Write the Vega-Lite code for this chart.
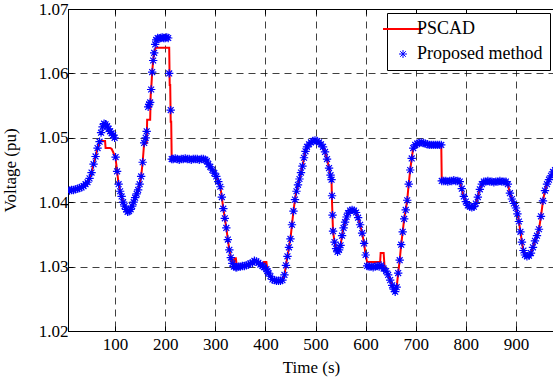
{
  "$schema": "https://vega.github.io/schema/vega-lite/v6.json",
  "width": 486,
  "height": 322,
  "autosize": {"type": "none"},
  "padding": {"left": 68, "top": 9, "right": 0, "bottom": 50},
  "background": "white",
  "config": {
    "font": "Liberation Serif",
    "view": {"stroke": "black", "strokeWidth": 1},
    "axis": {
      "labelFont": "Liberation Serif", "titleFont": "Liberation Serif",
      "labelFontSize": 17, "titleFontSize": 17, "titleFontWeight": "normal",
      "labelColor": "black", "titleColor": "black",
      "domainColor": "black", "domainWidth": 1,
      "tickColor": "black", "tickWidth": 1,
      "gridColor": "black", "gridDash": [7, 5], "gridOpacity": 0.75, "gridWidth": 1
    },
    "legend": {
      "strokeColor": "black", "fillColor": "white", "strokeWidth": 1, "padding": 7,
      "labelFont": "Liberation Serif", "labelFontSize": 18, "labelColor": "black",
      "rowPadding": 7, "labelOffset": 5, "symbolSize": 3200
    }
  },
  "data": {"values": [
    {"t": 5, "pscad": 1.0419, "proposed": 1.0419},
    {"t": 9, "pscad": 1.0418, "proposed": 1.0418},
    {"t": 13, "pscad": 1.0419, "proposed": 1.0419},
    {"t": 17, "pscad": 1.0419, "proposed": 1.0419},
    {"t": 21, "pscad": 1.0420, "proposed": 1.0420},
    {"t": 25, "pscad": 1.0421, "proposed": 1.0421},
    {"t": 29, "pscad": 1.0422, "proposed": 1.0422},
    {"t": 33, "pscad": 1.0423, "proposed": 1.0423},
    {"t": 37, "pscad": 1.0425, "proposed": 1.0425},
    {"t": 41, "pscad": 1.0428, "proposed": 1.0428},
    {"t": 45, "pscad": 1.0431, "proposed": 1.0431},
    {"t": 49, "pscad": 1.0437, "proposed": 1.0437},
    {"t": 53, "pscad": 1.0446, "proposed": 1.0446},
    {"t": 57, "pscad": 1.0459, "proposed": 1.0459},
    {"t": 61, "pscad": 1.0471, "proposed": 1.0471},
    {"t": 65, "pscad": 1.0484, "proposed": 1.0484},
    {"t": 69, "pscad": 1.0493, "proposed": 1.0494},
    {"t": 72, "pscad": 1.0495, "proposed": 1.0508},
    {"t": 75, "pscad": 1.0495, "proposed": 1.0517},
    {"t": 78, "pscad": 1.0495, "proposed": 1.0522},
    {"t": 80, "pscad": 1.0495, "proposed": null},
    {"t": 81, "pscad": 1.0484, "proposed": 1.0521},
    {"t": 84, "pscad": 1.0484, "proposed": 1.0518},
    {"t": 87, "pscad": 1.0484, "proposed": 1.0514},
    {"t": 90, "pscad": 1.0484, "proposed": 1.0510},
    {"t": 93, "pscad": 1.0483, "proposed": 1.0507},
    {"t": 96, "pscad": 1.0478, "proposed": 1.0504},
    {"t": 99, "pscad": 1.0472, "proposed": 1.0500},
    {"t": 101, "pscad": 1.0468, "proposed": 1.0470},
    {"t": 104, "pscad": 1.0448, "proposed": 1.0448},
    {"t": 107, "pscad": 1.0428, "proposed": 1.0428},
    {"t": 110, "pscad": 1.0417, "proposed": 1.0417},
    {"t": 113, "pscad": 1.0409, "proposed": 1.0409},
    {"t": 116, "pscad": 1.0400, "proposed": 1.0400},
    {"t": 119, "pscad": 1.0394, "proposed": 1.0394},
    {"t": 122, "pscad": 1.0389, "proposed": 1.0389},
    {"t": 125, "pscad": 1.0385, "proposed": 1.0385},
    {"t": 128, "pscad": 1.0386, "proposed": 1.0386},
    {"t": 131, "pscad": 1.0389, "proposed": 1.0389},
    {"t": 134, "pscad": 1.0394, "proposed": 1.0394},
    {"t": 137, "pscad": 1.0400, "proposed": 1.0400},
    {"t": 140, "pscad": 1.0407, "proposed": 1.0407},
    {"t": 143, "pscad": 1.0413, "proposed": 1.0413},
    {"t": 146, "pscad": 1.0419, "proposed": 1.0419},
    {"t": 149, "pscad": 1.0428, "proposed": 1.0428},
    {"t": 152, "pscad": 1.0440, "proposed": 1.0440},
    {"t": 155, "pscad": 1.0462, "proposed": 1.0462},
    {"t": 158, "pscad": 1.0492, "proposed": 1.0492},
    {"t": 161, "pscad": 1.0492, "proposed": 1.0500},
    {"t": 163, "pscad": 1.0492, "proposed": 1.0510},
    {"t": 164, "pscad": 1.0528, "proposed": null},
    {"t": 166, "pscad": 1.0528, "proposed": 1.0548},
    {"t": 168, "pscad": 1.0528, "proposed": 1.0552},
    {"t": 170, "pscad": 1.0528, "proposed": 1.0555},
    {"t": 171, "pscad": 1.0565, "proposed": null},
    {"t": 172, "pscad": 1.0575, "proposed": 1.0575},
    {"t": 174, "pscad": 1.0602, "proposed": 1.0602},
    {"t": 176, "pscad": 1.0620, "proposed": 1.0620},
    {"t": 178, "pscad": 1.0632, "proposed": 1.0632},
    {"t": 180, "pscad": 1.0638, "proposed": 1.0645},
    {"t": 182, "pscad": 1.0640, "proposed": 1.0652},
    {"t": 185, "pscad": 1.0640, "proposed": 1.0655},
    {"t": 188, "pscad": 1.0640, "proposed": 1.0654},
    {"t": 191, "pscad": 1.0640, "proposed": 1.0655},
    {"t": 194, "pscad": 1.0640, "proposed": 1.0656},
    {"t": 197, "pscad": 1.0640, "proposed": 1.0655},
    {"t": 200, "pscad": 1.0640, "proposed": 1.0655},
    {"t": 203, "pscad": 1.0640, "proposed": 1.0656},
    {"t": 206, "pscad": 1.0640, "proposed": 1.0655},
    {"t": 208, "pscad": 1.0640, "proposed": 1.0600},
    {"t": 209, "pscad": 1.0582, "proposed": null},
    {"t": 210, "pscad": 1.0582, "proposed": null},
    {"t": 211, "pscad": 1.0525, "proposed": 1.0543},
    {"t": 212, "pscad": 1.0525, "proposed": null},
    {"t": 213, "pscad": 1.0466, "proposed": 1.0467},
    {"t": 216, "pscad": 1.0466, "proposed": 1.0467},
    {"t": 220, "pscad": 1.0466, "proposed": 1.0468},
    {"t": 224, "pscad": 1.0466, "proposed": 1.0467},
    {"t": 228, "pscad": 1.0466, "proposed": 1.0466},
    {"t": 232, "pscad": 1.0466, "proposed": 1.0467},
    {"t": 236, "pscad": 1.0466, "proposed": 1.0467},
    {"t": 240, "pscad": 1.0466, "proposed": 1.0468},
    {"t": 244, "pscad": 1.0466, "proposed": 1.0467},
    {"t": 248, "pscad": 1.0466, "proposed": 1.0467},
    {"t": 252, "pscad": 1.0466, "proposed": 1.0466},
    {"t": 256, "pscad": 1.0466, "proposed": 1.0467},
    {"t": 260, "pscad": 1.0466, "proposed": 1.0467},
    {"t": 264, "pscad": 1.0466, "proposed": 1.0467},
    {"t": 268, "pscad": 1.0466, "proposed": 1.0466},
    {"t": 272, "pscad": 1.0466, "proposed": 1.0467},
    {"t": 276, "pscad": 1.0466, "proposed": 1.0467},
    {"t": 280, "pscad": 1.0466, "proposed": 1.0466},
    {"t": 283, "pscad": 1.0464, "proposed": 1.0464},
    {"t": 286, "pscad": 1.0459, "proposed": 1.0459},
    {"t": 290, "pscad": 1.0455, "proposed": 1.0455},
    {"t": 294, "pscad": 1.0450, "proposed": 1.0450},
    {"t": 298, "pscad": 1.0445, "proposed": 1.0445},
    {"t": 302, "pscad": 1.0440, "proposed": 1.0440},
    {"t": 306, "pscad": 1.0432, "proposed": 1.0432},
    {"t": 310, "pscad": 1.0424, "proposed": 1.0424},
    {"t": 313, "pscad": 1.0408, "proposed": 1.0408},
    {"t": 316, "pscad": 1.0390, "proposed": 1.0390},
    {"t": 319, "pscad": 1.0375, "proposed": 1.0375},
    {"t": 322, "pscad": 1.0360, "proposed": 1.0360},
    {"t": 325, "pscad": 1.0342, "proposed": 1.0342},
    {"t": 328, "pscad": 1.0326, "proposed": 1.0326},
    {"t": 331, "pscad": 1.0314, "proposed": 1.0314},
    {"t": 334, "pscad": 1.0305, "proposed": 1.0305},
    {"t": 337, "pscad": 1.0300, "proposed": 1.0300},
    {"t": 338, "pscad": 1.0313, "proposed": null},
    {"t": 341, "pscad": 1.0313, "proposed": 1.0299},
    {"t": 343, "pscad": 1.0300, "proposed": 1.0299},
    {"t": 346, "pscad": 1.0300, "proposed": 1.0300},
    {"t": 350, "pscad": 1.0300, "proposed": 1.0300},
    {"t": 354, "pscad": 1.0301, "proposed": 1.0301},
    {"t": 358, "pscad": 1.0301, "proposed": 1.0301},
    {"t": 362, "pscad": 1.0302, "proposed": 1.0302},
    {"t": 366, "pscad": 1.0303, "proposed": 1.0303},
    {"t": 370, "pscad": 1.0305, "proposed": 1.0305},
    {"t": 374, "pscad": 1.0306, "proposed": 1.0306},
    {"t": 378, "pscad": 1.0309, "proposed": 1.0309},
    {"t": 382, "pscad": 1.0308, "proposed": 1.0308},
    {"t": 386, "pscad": 1.0306, "proposed": 1.0306},
    {"t": 390, "pscad": 1.0303, "proposed": 1.0303},
    {"t": 394, "pscad": 1.0301, "proposed": 1.0301},
    {"t": 397, "pscad": 1.0307, "proposed": 1.0299},
    {"t": 402, "pscad": 1.0307, "proposed": 1.0296},
    {"t": 404, "pscad": 1.0294, "proposed": 1.0293},
    {"t": 406, "pscad": 1.0290, "proposed": 1.0290},
    {"t": 410, "pscad": 1.0285, "proposed": 1.0285},
    {"t": 414, "pscad": 1.0280, "proposed": 1.0280},
    {"t": 418, "pscad": 1.0279, "proposed": 1.0279},
    {"t": 422, "pscad": 1.0278, "proposed": 1.0278},
    {"t": 426, "pscad": 1.0278, "proposed": 1.0278},
    {"t": 430, "pscad": 1.0278, "proposed": 1.0278},
    {"t": 434, "pscad": 1.0279, "proposed": 1.0279},
    {"t": 438, "pscad": 1.0287, "proposed": 1.0287},
    {"t": 441, "pscad": 1.0302, "proposed": 1.0302},
    {"t": 444, "pscad": 1.0316, "proposed": 1.0316},
    {"t": 447, "pscad": 1.0330, "proposed": 1.0330},
    {"t": 450, "pscad": 1.0343, "proposed": 1.0343},
    {"t": 453, "pscad": 1.0365, "proposed": 1.0365},
    {"t": 456, "pscad": 1.0386, "proposed": 1.0386},
    {"t": 459, "pscad": 1.0404, "proposed": 1.0404},
    {"t": 462, "pscad": 1.0417, "proposed": 1.0417},
    {"t": 465, "pscad": 1.0427, "proposed": 1.0427},
    {"t": 468, "pscad": 1.0436, "proposed": 1.0436},
    {"t": 471, "pscad": 1.0446, "proposed": 1.0446},
    {"t": 474, "pscad": 1.0456, "proposed": 1.0456},
    {"t": 477, "pscad": 1.0469, "proposed": 1.0469},
    {"t": 480, "pscad": 1.0479, "proposed": 1.0479},
    {"t": 483, "pscad": 1.0486, "proposed": 1.0486},
    {"t": 487, "pscad": 1.0490, "proposed": 1.0490},
    {"t": 491, "pscad": 1.0493, "proposed": 1.0493},
    {"t": 495, "pscad": 1.0495, "proposed": 1.0495},
    {"t": 499, "pscad": 1.0496, "proposed": 1.0496},
    {"t": 503, "pscad": 1.0495, "proposed": 1.0495},
    {"t": 507, "pscad": 1.0493, "proposed": 1.0493},
    {"t": 511, "pscad": 1.0490, "proposed": 1.0490},
    {"t": 515, "pscad": 1.0486, "proposed": 1.0486},
    {"t": 519, "pscad": 1.0478, "proposed": 1.0478},
    {"t": 523, "pscad": 1.0467, "proposed": 1.0467},
    {"t": 527, "pscad": 1.0453, "proposed": 1.0453},
    {"t": 530, "pscad": 1.0442, "proposed": 1.0442},
    {"t": 532, "pscad": 1.0432, "proposed": 1.0435},
    {"t": 533, "pscad": 1.0400, "proposed": 1.0410},
    {"t": 534, "pscad": 1.0375, "proposed": 1.0380},
    {"t": 535, "pscad": 1.0355, "proposed": 1.0355},
    {"t": 538, "pscad": 1.0338, "proposed": 1.0338},
    {"t": 541, "pscad": 1.0328, "proposed": 1.0328},
    {"t": 544, "pscad": 1.0323, "proposed": 1.0323},
    {"t": 547, "pscad": 1.0326, "proposed": 1.0326},
    {"t": 550, "pscad": 1.0333, "proposed": 1.0333},
    {"t": 553, "pscad": 1.0348, "proposed": 1.0348},
    {"t": 556, "pscad": 1.0360, "proposed": 1.0360},
    {"t": 559, "pscad": 1.0369, "proposed": 1.0369},
    {"t": 562, "pscad": 1.0377, "proposed": 1.0377},
    {"t": 565, "pscad": 1.0383, "proposed": 1.0383},
    {"t": 569, "pscad": 1.0387, "proposed": 1.0387},
    {"t": 573, "pscad": 1.0388, "proposed": 1.0388},
    {"t": 577, "pscad": 1.0387, "proposed": 1.0387},
    {"t": 581, "pscad": 1.0384, "proposed": 1.0384},
    {"t": 585, "pscad": 1.0376, "proposed": 1.0376},
    {"t": 589, "pscad": 1.0365, "proposed": 1.0365},
    {"t": 593, "pscad": 1.0352, "proposed": 1.0352},
    {"t": 597, "pscad": 1.0336, "proposed": 1.0336},
    {"t": 600, "pscad": 1.0318, "proposed": 1.0318},
    {"t": 603, "pscad": 1.0307, "proposed": 1.0301},
    {"t": 607, "pscad": 1.0307, "proposed": 1.0300},
    {"t": 611, "pscad": 1.0307, "proposed": 1.0300},
    {"t": 615, "pscad": 1.0307, "proposed": 1.0299},
    {"t": 619, "pscad": 1.0307, "proposed": 1.0300},
    {"t": 623, "pscad": 1.0307, "proposed": 1.0301},
    {"t": 627, "pscad": 1.0307, "proposed": 1.0300},
    {"t": 629, "pscad": 1.0307, "proposed": null},
    {"t": 630, "pscad": 1.0321, "proposed": null},
    {"t": 631, "pscad": 1.0321, "proposed": 1.0302},
    {"t": 636, "pscad": 1.0321, "proposed": 1.0297},
    {"t": 638, "pscad": 1.0297, "proposed": null},
    {"t": 641, "pscad": 1.0293, "proposed": 1.0293},
    {"t": 645, "pscad": 1.0287, "proposed": 1.0287},
    {"t": 649, "pscad": 1.0279, "proposed": 1.0279},
    {"t": 653, "pscad": 1.0271, "proposed": 1.0271},
    {"t": 656, "pscad": 1.0265, "proposed": 1.0265},
    {"t": 659, "pscad": 1.0261, "proposed": 1.0261},
    {"t": 662, "pscad": 1.0268, "proposed": 1.0268},
    {"t": 665, "pscad": 1.0290, "proposed": 1.0290},
    {"t": 668, "pscad": 1.0310, "proposed": 1.0310},
    {"t": 671, "pscad": 1.0334, "proposed": 1.0334},
    {"t": 674, "pscad": 1.0354, "proposed": 1.0354},
    {"t": 677, "pscad": 1.0374, "proposed": 1.0374},
    {"t": 680, "pscad": 1.0388, "proposed": 1.0388},
    {"t": 683, "pscad": 1.0403, "proposed": 1.0403},
    {"t": 686, "pscad": 1.0428, "proposed": 1.0428},
    {"t": 689, "pscad": 1.0450, "proposed": 1.0450},
    {"t": 692, "pscad": 1.0468, "proposed": 1.0468},
    {"t": 695, "pscad": 1.0484, "proposed": 1.0484},
    {"t": 699, "pscad": 1.0489, "proposed": 1.0489},
    {"t": 703, "pscad": 1.0491, "proposed": 1.0491},
    {"t": 707, "pscad": 1.0492, "proposed": 1.0492},
    {"t": 711, "pscad": 1.0493, "proposed": 1.0493},
    {"t": 715, "pscad": 1.0492, "proposed": 1.0492},
    {"t": 719, "pscad": 1.0491, "proposed": 1.0491},
    {"t": 723, "pscad": 1.0490, "proposed": 1.0490},
    {"t": 727, "pscad": 1.0489, "proposed": 1.0489},
    {"t": 731, "pscad": 1.0489, "proposed": 1.0489},
    {"t": 735, "pscad": 1.0489, "proposed": 1.0489},
    {"t": 739, "pscad": 1.0489, "proposed": 1.0489},
    {"t": 743, "pscad": 1.0489, "proposed": 1.0489},
    {"t": 747, "pscad": 1.0489, "proposed": 1.0489},
    {"t": 751, "pscad": 1.0489, "proposed": 1.0489},
    {"t": 752, "pscad": 1.0433, "proposed": 1.0433},
    {"t": 756, "pscad": 1.0433, "proposed": 1.0433},
    {"t": 760, "pscad": 1.0433, "proposed": 1.0433},
    {"t": 764, "pscad": 1.0433, "proposed": 1.0432},
    {"t": 768, "pscad": 1.0433, "proposed": 1.0433},
    {"t": 772, "pscad": 1.0433, "proposed": 1.0433},
    {"t": 776, "pscad": 1.0433, "proposed": 1.0434},
    {"t": 780, "pscad": 1.0433, "proposed": 1.0433},
    {"t": 784, "pscad": 1.0433, "proposed": 1.0433},
    {"t": 788, "pscad": 1.0432, "proposed": 1.0432},
    {"t": 792, "pscad": 1.0421, "proposed": 1.0421},
    {"t": 796, "pscad": 1.0409, "proposed": 1.0409},
    {"t": 800, "pscad": 1.0401, "proposed": 1.0401},
    {"t": 804, "pscad": 1.0395, "proposed": 1.0395},
    {"t": 808, "pscad": 1.0393, "proposed": 1.0393},
    {"t": 812, "pscad": 1.0392, "proposed": 1.0392},
    {"t": 816, "pscad": 1.0393, "proposed": 1.0393},
    {"t": 820, "pscad": 1.0398, "proposed": 1.0398},
    {"t": 824, "pscad": 1.0408, "proposed": 1.0408},
    {"t": 828, "pscad": 1.0420, "proposed": 1.0420},
    {"t": 832, "pscad": 1.0428, "proposed": 1.0428},
    {"t": 836, "pscad": 1.0432, "proposed": 1.0432},
    {"t": 840, "pscad": 1.0432, "proposed": 1.0432},
    {"t": 844, "pscad": 1.0432, "proposed": 1.0433},
    {"t": 848, "pscad": 1.0432, "proposed": 1.0432},
    {"t": 852, "pscad": 1.0432, "proposed": 1.0432},
    {"t": 856, "pscad": 1.0432, "proposed": 1.0431},
    {"t": 860, "pscad": 1.0432, "proposed": 1.0432},
    {"t": 864, "pscad": 1.0432, "proposed": 1.0432},
    {"t": 868, "pscad": 1.0432, "proposed": 1.0433},
    {"t": 872, "pscad": 1.0432, "proposed": 1.0432},
    {"t": 876, "pscad": 1.0432, "proposed": 1.0432},
    {"t": 880, "pscad": 1.0432, "proposed": 1.0432},
    {"t": 884, "pscad": 1.0428, "proposed": 1.0428},
    {"t": 888, "pscad": 1.0414, "proposed": 1.0414},
    {"t": 892, "pscad": 1.0405, "proposed": 1.0405},
    {"t": 896, "pscad": 1.0398, "proposed": 1.0398},
    {"t": 900, "pscad": 1.0391, "proposed": 1.0391},
    {"t": 903, "pscad": 1.0382, "proposed": 1.0382},
    {"t": 906, "pscad": 1.0370, "proposed": 1.0370},
    {"t": 909, "pscad": 1.0354, "proposed": 1.0354},
    {"t": 912, "pscad": 1.0338, "proposed": 1.0338},
    {"t": 915, "pscad": 1.0325, "proposed": 1.0325},
    {"t": 918, "pscad": 1.0318, "proposed": 1.0318},
    {"t": 922, "pscad": 1.0316, "proposed": 1.0316},
    {"t": 926, "pscad": 1.0317, "proposed": 1.0317},
    {"t": 930, "pscad": 1.0321, "proposed": 1.0321},
    {"t": 934, "pscad": 1.0330, "proposed": 1.0330},
    {"t": 938, "pscad": 1.0340, "proposed": 1.0340},
    {"t": 942, "pscad": 1.0348, "proposed": 1.0348},
    {"t": 946, "pscad": 1.0358, "proposed": 1.0358},
    {"t": 950, "pscad": 1.0378, "proposed": 1.0378},
    {"t": 954, "pscad": 1.0402, "proposed": 1.0402},
    {"t": 958, "pscad": 1.0418, "proposed": 1.0418},
    {"t": 962, "pscad": 1.0428, "proposed": 1.0428},
    {"t": 966, "pscad": 1.0435, "proposed": 1.0435},
    {"t": 970, "pscad": 1.0441, "proposed": 1.0441},
    {"t": 974, "pscad": 1.0447, "proposed": 1.0447},
    {"t": 978, "pscad": 1.0450, "proposed": 1.0450}
  ]},
  "layer": [
    {
      "mark": {"type": "line", "color": "#ff0000", "strokeWidth": 2, "clip": true},
      "encoding": {
        "x": {"field": "t", "type": "quantitative",
          "scale": {"domain": [6, 976], "nice": false, "zero": false},
          "axis": {"values": [100, 200, 300, 400, 500, 600, 700, 800, 900], "title": "Time (s)", "grid": true, "tickSize": -5, "labelPadding": 10, "titlePadding": 7}},
        "y": {"field": "pscad", "type": "quantitative",
          "scale": {"domain": [1.02, 1.07], "nice": false, "zero": false},
          "axis": {"values": [1.02, 1.03, 1.04, 1.05, 1.06, 1.07], "format": ".2f", "title": "Voltage (pu)", "grid": true, "tickSize": -5, "labelPadding": 5, "titlePadding": 19}},
        "color": {"datum": "PSCAD", "type": "nominal",
          "scale": {"domain": ["PSCAD", "Proposed method"], "range": ["#ff0000", "#0000ff"]},
          "legend": {
            "orient": "top-right", "offset": 4, "title": null,
            "encode": {
              "symbols": {"update": {
                "shape": {"signal": "datum.value === 'PSCAD' ? 'M-1,0L1,0' : 'M-1,0L1,0M0,-1L0,1M-0.7,-0.7L0.7,0.7M-0.7,0.7L0.7,-0.7'"},
                "size": {"signal": "datum.value === 'PSCAD' ? 1600 : 64"},
                "strokeWidth": {"signal": "datum.value === 'PSCAD' ? 2 : 1"},
                "stroke": {"signal": "datum.value === 'PSCAD' ? '#ff0000' : '#0000ff'"},
                "fill": {"value": "transparent"},
                "opacity": {"value": 1}
              }}
            }
          }}
      }
    },
    {
      "mark": {"type": "point", "shape": "M-1,0L1,0M0,-1L0,1M-0.7,-0.7L0.7,0.7M-0.7,0.7L0.7,-0.7", "filled": false, "size": 70, "strokeWidth": 1.2, "opacity": 1, "clip": true},
      "encoding": {
        "x": {"field": "t", "type": "quantitative",
          "scale": {"domain": [6, 976], "nice": false, "zero": false},
          "axis": {"orient": "top", "values": [100, 200, 300, 400, 500, 600, 700, 800, 900], "labels": false, "domain": false, "grid": false, "ticks": true, "tickSize": -5, "title": null}},
        "y": {"field": "proposed", "type": "quantitative"},
        "color": {"datum": "Proposed method", "type": "nominal"}
      }
    }
  ],
  "resolve": {"axis": {"x": "independent"}}
}
